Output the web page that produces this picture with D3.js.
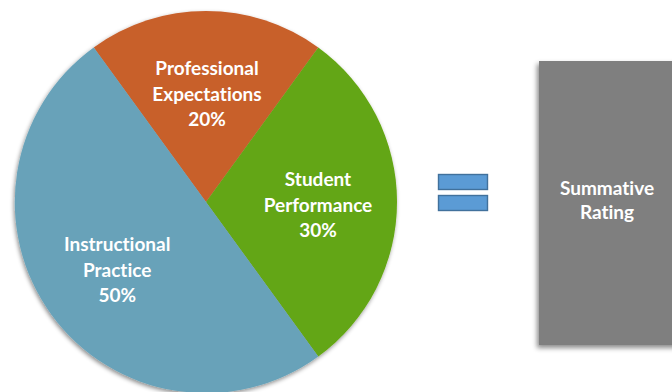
<!DOCTYPE html>
<html>
<head>
<meta charset="utf-8">
<script src="https://cdn.jsdelivr.net/npm/d3@7"></script>
<style>
  html, body { margin: 0; padding: 0; background: #fff; }
  svg { display: block; }
  text { font-family: Lato, "Open Sans", sans-serif; font-weight: 700; fill: #fff; font-variant-ligatures: none; }
</style>
</head>
<body>
<svg id="chart" width="672" height="392"></svg>
<script>
// Weighting components of the rating
const components = ["Professional Expectations", "Student Performance", "Instructional Practice"];
const labelLines = [["Professional", "Expectations"], ["Student", "Performance"], ["Instructional", "Practice"]];
const weights = [20, 30, 50];
const colors = ["#C8602C", "#63A612", "#67A2B9"];
const resultLines = ["Summative", "Rating"];

const svg = d3.select("#chart");
const W = 672, H = 392;

const defs = svg.append("defs");
defs.append("filter").attr("id", "pieShadow")
  .attr("x", "-10%").attr("y", "-10%").attr("width", "120%").attr("height", "120%")
  .append("feDropShadow")
  .attr("dx", -1).attr("dy", 2).attr("stdDeviation", 2)
  .attr("flood-color", "#000").attr("flood-opacity", 0.45);
defs.append("filter").attr("id", "boxShadow")
  .attr("x", "-10%").attr("y", "-10%").attr("width", "120%").attr("height", "120%")
  .append("feDropShadow")
  .attr("dx", -2).attr("dy", 3).attr("stdDeviation", 2.5)
  .attr("flood-color", "#000").attr("flood-opacity", 0.45);

// Pie
const cx = 206, cy = 202, R = 191;
const pie = d3.pie().sort(null).value(d => d)
  .startAngle(-Math.PI / 5).endAngle(-Math.PI / 5 + 2 * Math.PI);
const arcs = pie(weights);
const arc = d3.arc().innerRadius(0).outerRadius(R);
const labelArc = d3.arc().innerRadius(111).outerRadius(111);

const g = svg.append("g").attr("transform", `translate(${cx},${cy})`);
const pieG = g.append("g").attr("filter", "url(#pieShadow)");
pieG.selectAll("path").data(arcs).enter().append("path")
  .attr("d", arc)
  .attr("fill", (d, i) => colors[i]);

const labels = g.selectAll("g.lbl").data(arcs).enter().append("g")
  .attr("class", "lbl")
  .attr("transform", d => {
    const [x, y] = labelArc.centroid(d);
    return `translate(${x + 1},${y + 3})`;
  });
labels.each(function (d, i) {
  const lines = labelLines[i].concat([weights[i] + "%"]);
  const t = d3.select(this).append("text")
    .attr("text-anchor", "middle")
    .attr("font-size", 19);
  lines.forEach((s, k) => {
    t.append("tspan").attr("x", 0)
      .attr("y", (k - 1) * 25.5)
      .attr("dy", "0.35em")
      .text(s);
  });
});

// Equals sign
const eq = svg.append("g");
[174, 195].forEach(y => {
  eq.append("rect").attr("x", 438.5).attr("y", y + 0.5)
    .attr("width", 49).attr("height", 15)
    .attr("fill", "#5B9BD5").attr("stroke", "#41719C").attr("stroke-width", 1.4);
});

// Result box
svg.append("rect").attr("x", 539).attr("y", 61).attr("width", 150).attr("height", 284)
  .attr("fill", "#7F7F7F").attr("filter", "url(#boxShadow)");
const rt = svg.append("text").attr("text-anchor", "middle").attr("font-size", 19);
resultLines.forEach((s, k) => {
  rt.append("tspan").attr("x", 607).attr("y", 188 + k * 24).attr("dy", "0.35em").text(s);
});
</script>
</body>
</html>
